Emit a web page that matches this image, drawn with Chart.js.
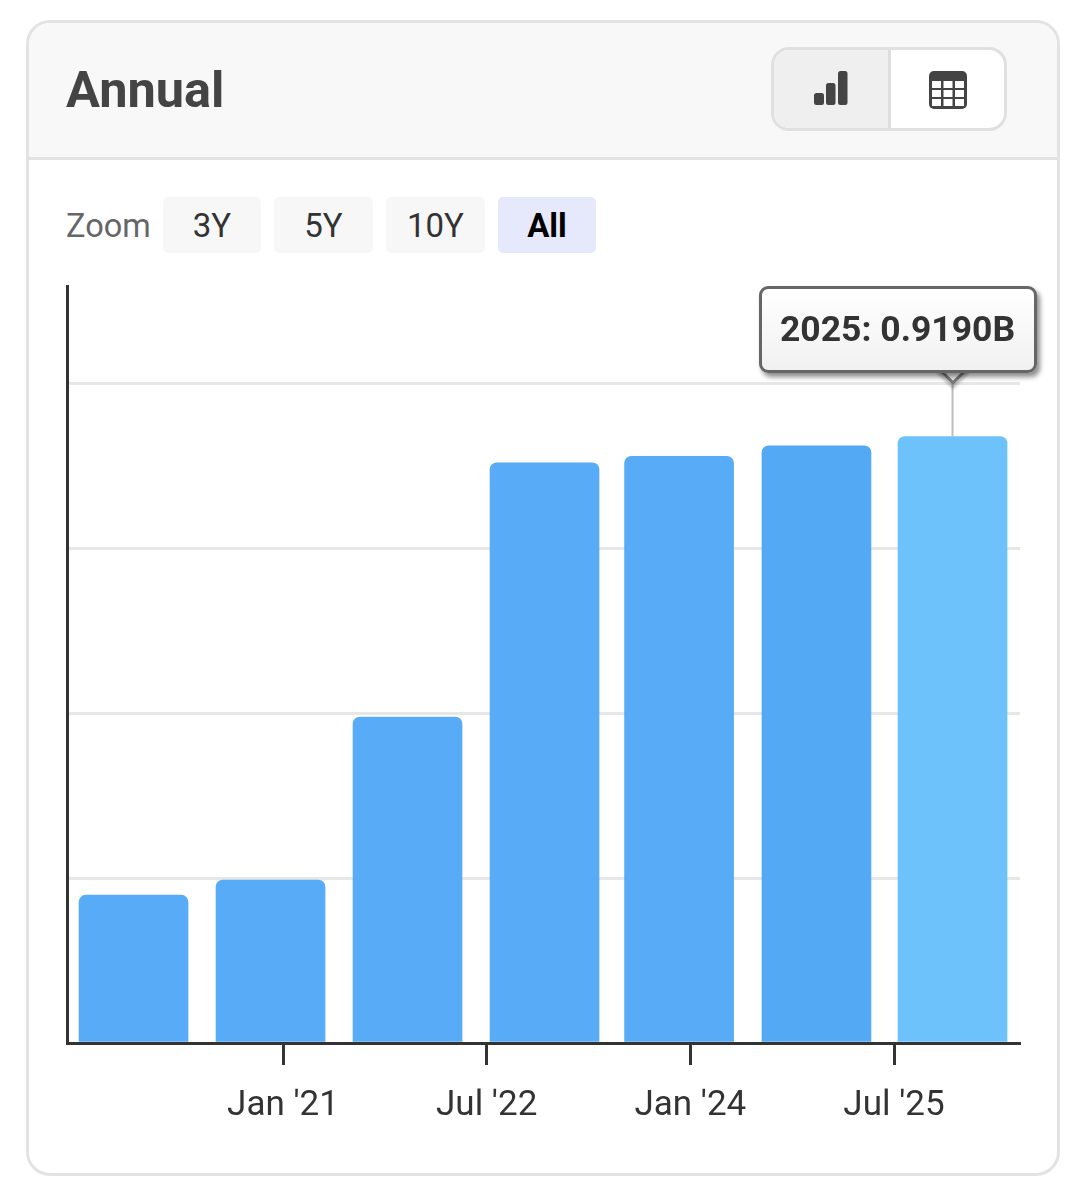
<!DOCTYPE html>
<html><head><meta charset="utf-8">
<script src="https://cdn.jsdelivr.net/npm/chart.js@4"></script>
<style>
html,body{margin:0;padding:0;background:#fff;font-family:Roboto,sans-serif}
#page{position:relative;width:1086px;height:1200px;overflow:hidden}
.abs{position:absolute;box-sizing:border-box}
#card{left:26px;top:20px;width:1034px;height:1156px;border:3px solid #e3e3e3;border-radius:24px;overflow:hidden;background:#fff}
#head{background:#f8f8f8;border-bottom:3px solid #e3e3e3}
#title{left:66px;top:61px;font-size:50.5px;font-weight:700;color:#444;line-height:58px}
#toggle{left:771px;top:47px;width:236px;height:84px;border:3px solid #e0e0e0;border-radius:18px;overflow:hidden;background:#fff}
#tl{left:0;top:0;width:117px;height:78px;background:#efefef;border-right:3px solid #dedede}
.btn{top:197px;height:56px;border-radius:5px;background:#f7f7f7;color:#333;font-size:33px;line-height:58px;text-align:center}
#zoom{left:66px;top:197px;height:56px;line-height:58px;font-size:32.5px;color:#666}
#chartWrap{left:40px;top:270px;width:1000px;height:860px}
#tip{display:none;width:278px;height:87px;border:3px solid #666;border-radius:9px;background:linear-gradient(#fff,#f1f1f1);box-shadow:3px 4px 5px rgba(0,0,0,.45);color:#333;font-size:35.5px;font-weight:700;line-height:81px;text-align:center;white-space:nowrap}
#arrow{width:24px;height:24px;background:#f1f1f1;transform:rotate(45deg);border-right:3px solid #777;border-bottom:3px solid #777;box-shadow:3px 3px 3px rgba(0,0,0,.25)}
</style></head>
<body><div id="page">
<div class="abs" id="card"></div>
<div class="abs" id="head" style="left:29px;top:23px;width:1028px;height:137px;border-radius:21px 21px 0 0"></div>
<div class="abs" id="title">Annual</div>
<div class="abs" id="toggle">
  <div class="abs" id="tl"></div>
  <svg class="abs" style="left:38px;top:21px" width="36" height="36" viewBox="0 0 36 36" fill="#444"><rect x="2" y="22" width="10" height="12" rx="2.5"/><rect x="14" y="12" width="9.5" height="22" rx="2.5"/><rect x="26" y="0" width="9.5" height="34" rx="2.5"/></svg>
  <svg class="abs" style="left:154px;top:20px" width="40" height="40" viewBox="0 0 40 40"><rect x="1" y="1" width="38" height="38" rx="5" fill="#444"/><g fill="#fff"><rect x="4" y="11" width="9" height="7"/><rect x="15.5" y="11" width="9" height="7"/><rect x="27" y="11" width="9" height="7"/><rect x="4" y="20" width="9" height="7"/><rect x="15.5" y="20" width="9" height="7"/><rect x="27" y="20" width="9" height="7"/><rect x="4" y="29" width="9" height="7"/><rect x="15.5" y="29" width="9" height="7"/><rect x="27" y="29" width="9" height="7"/></g></svg>
</div>
<div class="abs" id="zoom">Zoom</div>
<div class="abs btn" style="left:163px;width:98px">3Y</div>
<div class="abs btn" style="left:274px;width:99px">5Y</div>
<div class="abs btn" style="left:386px;width:99px">10Y</div>
<div class="abs btn" style="left:498px;width:98px;background:#e6e9fb;color:#000;font-weight:700">All</div>
<div class="abs" id="chartWrap"><canvas id="c" width="1000" height="860" style="width:1000px;height:860px"></canvas></div>
<div class="abs" id="arrow" style="display:none"></div>
<div class="abs" id="tip"></div>
</div>
<script>
const fiscalYears = [2019, 2020, 2021, 2022, 2023, 2024, 2025];
const periodPositions = [2019.899, 2020.908, 2021.917, 2022.926, 2023.917, 2024.929, 2025.931];
const valuesB = [0.224, 0.247, 0.494, 0.879, 0.889, 0.905, 0.919];
const barColors = ['#57abf7','#57abf7','#57abf7','#57abf7','#57abf7','#54a9f5','#6ec2fc'];
const tickPositions = [2021, 2022.5, 2024, 2025.5];
const tickLabels = ["Jan '21", "Jul '22", "Jan '24", "Jul '25"];
const yTicks = [0, 0.25, 0.5, 0.75, 1];

const wrapLeft = 40, wrapTop = 270;
function externalTip(ctx){
  const t = ctx.tooltip, tip = document.getElementById('tip'), arrow = document.getElementById('arrow');
  if(!t.body || !t.body.length) return;
  const tipY = ctx.chart.scales.y.getPixelForValue(1) + wrapTop + 2;
  const cx = t.caretX + wrapLeft;
  tip.textContent = t.body[0].lines[0];
  tip.style.display = 'block';
  tip.style.left = (cx - 194) + 'px';
  tip.style.top = (tipY - 99) + 'px';
  arrow.style.display = 'block';
  arrow.style.left = (cx - 12) + 'px';
  arrow.style.top = (tipY - 29) + 'px';
}
const crosshair = {
  id:'crosshair',
  afterDatasetsDraw(chart){
    const el = chart.getDatasetMeta(0).data[valuesB.length-1];
    const c = chart.ctx, top = chart.scales.y.getPixelForValue(1);
    c.save(); c.strokeStyle='#bdbdbd'; c.lineWidth=2;
    c.beginPath(); c.moveTo(el.x, top); c.lineTo(el.x, el.y); c.stroke(); c.restore();
  }
};
const chart = new Chart(document.getElementById('c'), {
  type:'bar',
  data:{datasets:[{
    data: periodPositions.map((x,i)=>({x, y:valuesB[i]})),
    backgroundColor: barColors, hoverBackgroundColor: barColors,
    barThickness:109, borderRadius:{topLeft:7,topRight:7,bottomLeft:0,bottomRight:0}, borderSkipped:false
  }]},
  plugins:[crosshair],
  options:{
    responsive:false, animation:false, events:[],
    layout:{padding:{top:16,right:20,left:0,bottom:0}},
    plugins:{legend:{display:false},
      tooltip:{enabled:false, external:externalTip,
        callbacks:{title:()=>'', label:(i)=>fiscalYears[i.dataIndex]+': '+valuesB[i.dataIndex].toFixed(4)+'B'}}},
    scales:{
      x:{type:'linear',offset:false,min:2019.409,max:2026.428,
        afterBuildTicks(s){s.ticks=tickPositions.map(value=>({value}));},
        afterFit(s){s.height=87;},
        grid:{offset:false,drawOnChartArea:false,drawTicks:true,tickLength:22,tickWidth:3,tickColor:'#333'},
        border:{display:true,color:'#333',width:3},
        ticks:{autoSkip:false,maxRotation:0,padding:20,labelOffset:0,color:'#333',font:{family:'Roboto',size:35},
          callback:(v)=>tickLabels[tickPositions.indexOf(v)]}
      },
      y:{min:0,max:1.147,
        afterBuildTicks(s){s.ticks=yTicks.map(value=>({value}));},
        afterFit(s){s.width=27;},
        grid:{color:'#e7e7e7',lineWidth:3,drawTicks:false},
        border:{display:true,color:'#333',width:3},
        ticks:{display:false}
      }
    }
  }
});
chart.tooltip.setActiveElements([{datasetIndex:0,index:valuesB.length-1}],{x:0,y:0});
chart.update();
</script>
</body></html>
